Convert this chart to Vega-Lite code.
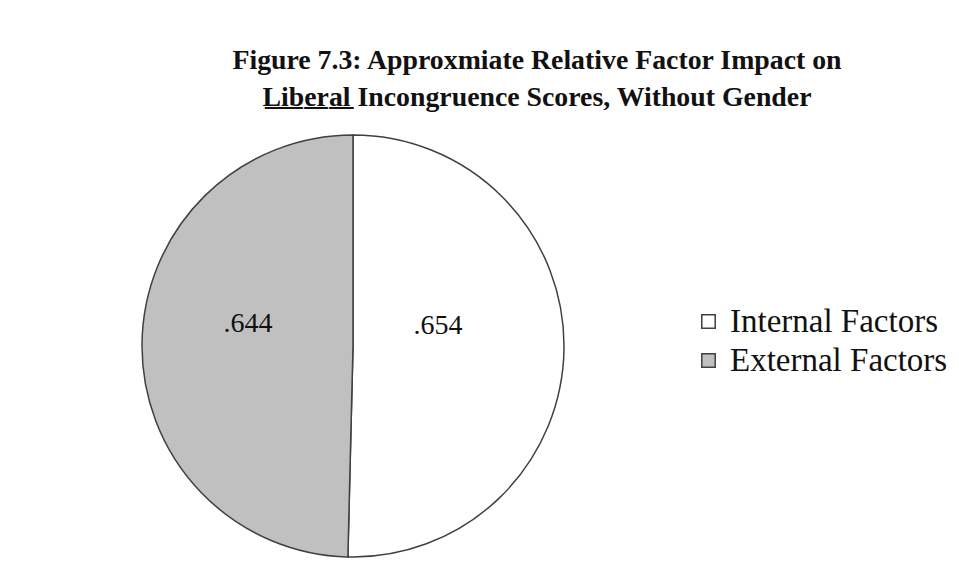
{
  "$schema": "https://vega.github.io/schema/vega-lite/v6.json",
  "autosize": {"type": "none"},
  "width": 422,
  "height": 422,
  "padding": {"left": 142, "top": 135, "right": 395, "bottom": 22},
  "background": "white",
  "config": {"view": {"stroke": null}, "font": "Liberation Serif"},
  "title": {
    "text": ["Figure 7.3: Approxmiate Relative Factor Impact on", "L̲i̲b̲e̲r̲a̲l̲ Incongruence Scores, Without Gender"],
    "font": "Liberation Serif",
    "fontSize": 27.8,
    "fontWeight": "bold",
    "color": "#111111",
    "anchor": "middle",
    "dx": 184,
    "offset": 20,
    "lineHeight": 37
  },
  "data": {
    "values": [
      {"factor": "Internal Factors", "value": 0.654, "label": ".654", "order": 1},
      {"factor": "External Factors", "value": 0.644, "label": ".644", "order": 2}
    ]
  },
  "encoding": {
    "theta": {"field": "value", "type": "quantitative", "stack": true},
    "order": {"field": "order", "type": "quantitative"}
  },
  "layer": [
    {
      "mark": {"type": "arc", "stroke": "#404040", "strokeWidth": 1.5},
      "encoding": {
        "color": {
          "field": "factor",
          "type": "nominal",
          "sort": ["Internal Factors", "External Factors"],
          "scale": {"domain": ["Internal Factors", "External Factors"], "range": ["#ffffff", "#c0c0c0"]},
          "legend": {
            "title": null,
            "orient": "none",
            "legendX": 550,
            "legendY": 170,
            "symbolType": "square",
            "symbolSize": 180,
            "symbolStrokeColor": "#404040",
            "symbolStrokeWidth": 1.5,
            "labelFont": "Liberation Serif",
            "labelFontSize": 33,
            "labelColor": "#111111",
            "labelOffset": 5,
            "rowPadding": 5,
            "labelLimit": 400
          }
        }
      }
    },
    {
      "mark": {"type": "text", "radius": 95, "dx": -10, "dy": -21, "font": "Liberation Serif", "fontSize": 28, "color": "#111111"},
      "encoding": {"text": {"field": "label", "type": "nominal"}}
    }
  ]
}
